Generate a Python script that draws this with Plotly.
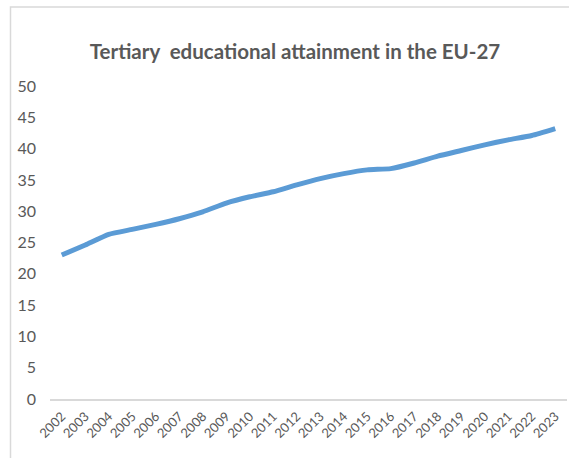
import plotly.graph_objects as go

years = [str(y) for y in range(2002, 2024)]
values = [23.0, 24.6, 26.3, 27.1, 27.9, 28.8, 29.9, 31.3, 32.3, 33.1, 34.2,
          35.2, 36.0, 36.6, 36.8, 37.7, 38.8, 39.7, 40.6, 41.4, 42.1, 43.2]
y_ticks = list(range(0, 55, 5))
title_text = "<b>Tertiary  educational attainment in the EU-27</b>"

W, H = 569, 458
L, R, T, B = 50, 2, 86, 59
pw, ph = W - L - R, H - T - B

FONT = "Lato, Open Sans, sans-serif"
GRAY = "#595959"

fig = go.Figure()
fig.add_trace(go.Scatter(
    x=years, y=values, mode="lines",
    line=dict(color="#5b9bd5", width=5, shape="spline", smoothing=0.5),
    hoverinfo="x+y", showlegend=False,
))

# outer chart border (extends past the canvas on right/bottom)
fig.add_shape(type="rect", xref="paper", yref="paper",
              x0=(10.5 - L) / pw, x1=1.2,
              y0=-0.4, y1=(H - B - 7) / ph,
              line=dict(color="#d9d9d9", width=1.5), fillcolor="rgba(0,0,0,0)",
              layer="below")

fig.update_layout(
    width=W, height=H,
    margin=dict(l=L, r=R, t=T, b=B),
    paper_bgcolor="white", plot_bgcolor="white",
    title=dict(text=title_text, x=295 / W, xanchor="center", xref="container",
               y=1 - 52 / H, yanchor="middle", yref="container",
               font=dict(family=FONT, size=20.5, color=GRAY)),
    xaxis=dict(type="category", range=[-0.5, len(years) - 0.5],
               tickangle=-45, tickfont=dict(family=FONT, size=13, color=GRAY),
               showgrid=False, showline=True, linecolor="#d9d9d9", linewidth=1.5,
               ticks="", ticklabelstandoff=3),
    yaxis=dict(range=[0, 50], tickvals=y_ticks, showgrid=False, zeroline=False,
               showline=False, ticks="", ticklabelstandoff=13,
               tickfont=dict(family=FONT, size=16, color=GRAY)),
)

fig.write_html("out.html")
